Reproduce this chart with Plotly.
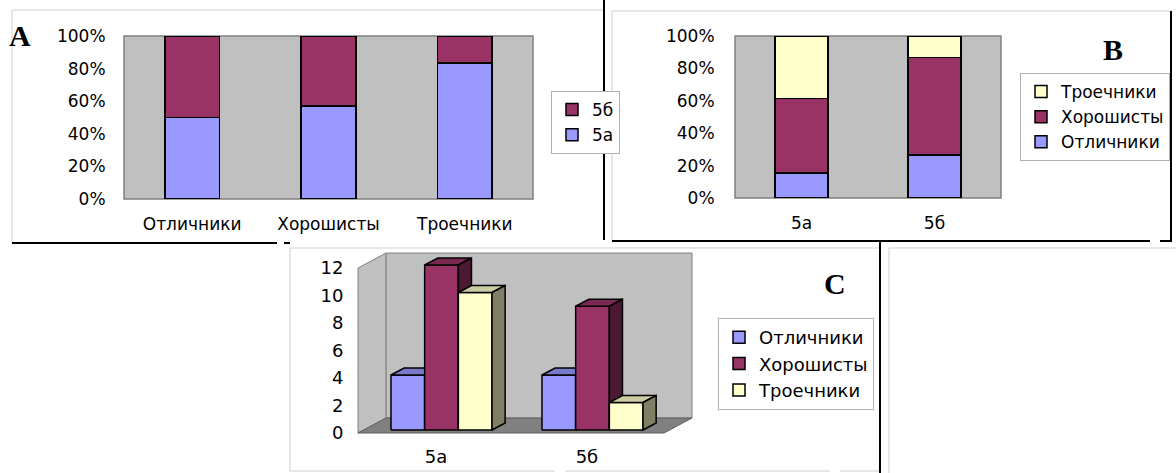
import plotly.graph_objects as go

# ---------------- data ----------------
groups = ['Отличники', 'Хорошисты', 'Троечники']
classes = ['5а', '5б']
counts_5a = [4, 12, 10]      # pupils of class 5а in each group
counts_5b = [4, 9, 2]        # pupils of class 5б in each group
pct_ticks = [0, 20, 40, 60, 80, 100]
count_ticks = [0, 2, 4, 6, 8, 10, 12]

group_colors = ['#9999ff', '#993366', '#ffffcc']
class_colors = ['#9999ff', '#993366']

W, H = 1176, 473
FONT = 'DejaVu Sans'


def px(x):
    return x / W


def py(y):
    return 1 - y / H


def shade(hexcol, f):
    h = hexcol.lstrip('#')
    r, g, b = (int(h[i:i + 2], 16) for i in (0, 2, 4))
    return 'rgb(%d,%d,%d)' % (r * f, g * f, b * f)


fig = go.Figure()

# ---------------- panel A: share of each class inside each group ----------------
totals = [a + b for a, b in zip(counts_5a, counts_5b)]
share_a = [a / t * 100 for a, t in zip(counts_5a, totals)]
share_b = [b / t * 100 for b, t in zip(counts_5b, totals)]
for name, vals, col in [(classes[0], share_a, class_colors[0]),
                        (classes[1], share_b, class_colors[1])]:
    fig.add_trace(go.Bar(x=groups, y=vals, name=name, xaxis='x', yaxis='y',
                         legend='legend',
                         marker=dict(color=col, line=dict(color='black', width=1.5)),
                         hoverinfo='skip'))

# ---------------- panel B: share of each group inside each class ----------------
sum_a, sum_b = sum(counts_5a), sum(counts_5b)
for i, g in enumerate(groups):
    fig.add_trace(go.Bar(x=classes, y=[counts_5a[i] / sum_a * 100, counts_5b[i] / sum_b * 100],
                         name=g, xaxis='x2', yaxis='y2', legend='legend2',
                         marker=dict(color=group_colors[i], line=dict(color='black', width=1.5)),
                         hoverinfo='skip'))

# ---------------- panel C: pseudo-3D clustered columns ----------------
BW = 0.223               # bar width in category units
OX, OY = 0.037, 0.22     # bars sit slightly behind the front of the box
WDX, WDY = 0.185, 1.09   # depth of the walls
BDX, BDY = 0.087, 0.51   # depth of the bars
XL, XR = -0.553, 1.474   # front edge of the floor
VMAX = count_ticks[-1]


def poly(trace_pts, fill, line, width=1):
    xs, ys = [], []
    for pts in trace_pts:
        xs += [p[0] for p in pts] + [pts[0][0], None]
        ys += [p[1] for p in pts] + [pts[0][1], None]
    fig.add_trace(go.Scatter(x=xs, y=ys, mode='lines', fill='toself', fillcolor=fill,
                             line=dict(color=line, width=width), xaxis='x3', yaxis='y3',
                             showlegend=False, hoverinfo='skip'))


b0, t0 = -OY, VMAX - OY
back = [(XL + WDX, b0 + WDY), (XR + WDX, b0 + WDY), (XR + WDX, t0 + WDY), (XL + WDX, t0 + WDY)]
side = [(XL, b0), (XL + WDX, b0 + WDY), (XL + WDX, t0 + WDY), (XL, t0)]
floor = [(XL, b0), (XR, b0), (XR + WDX, b0 + WDY), (XL + WDX, b0 + WDY)]
poly([back], '#c0c0c0', '#808080')
poly([side], '#c0c0c0', '#808080')
poly([floor], '#808080', '#606060')

series = [[counts_5a[k], counts_5b[k]] for k in range(3)]
for k, g in enumerate(groups):
    fronts, tops, sides = [], [], []
    for j, val in enumerate(series[k]):
        xc = j + (k - 1) * BW
        x0, x1 = xc - BW / 2, xc + BW / 2
        fronts.append([(x0, 0), (x1, 0), (x1, val), (x0, val)])
        tops.append([(x0, val), (x1, val), (x1 + BDX, val + BDY), (x0 + BDX, val + BDY)])
        sides.append([(x1, 0), (x1 + BDX, BDY), (x1 + BDX, val + BDY), (x1, val)])
    poly(fronts, group_colors[k], 'black', 1.5)
    poly(tops, shade(group_colors[k], 0.8), 'black', 1.5)
    poly(sides, shade(group_colors[k], 0.5), 'black', 1.5)

for k, g in enumerate(groups):
    fig.add_trace(go.Bar(x=[None], y=[None], name=g, xaxis='x3', yaxis='y3', legend='legend3',
                         marker=dict(color=group_colors[k], line=dict(color='black', width=1.5)),
                         hoverinfo='skip'))

# ---------------- layout ----------------
tickfont = dict(family=FONT, size=17, color='black')
hidden_tick = dict(ticks='outside', tickcolor='rgba(0,0,0,0)', showgrid=False, zeroline=False,
                   showline=False, fixedrange=True, automargin=False)

C_L, C_R, C_T, C_B = 350, 700, 250, 440
U0, UPX = 441.5, 151.0
V0, VPX = 430.0, 13.75

pct_text = ['%d%%' % t for t in pct_ticks]

layout = dict(
    width=W, height=H, margin=dict(l=0, r=0, t=0, b=0, pad=0, autoexpand=False),
    paper_bgcolor='white', plot_bgcolor='rgba(0,0,0,0)',
    barmode='stack', bargap=0.6, showlegend=True,
    xaxis=dict(domain=[px(124), px(533)], anchor='y', range=[-0.5, 2.5], tickfont=tickfont,
               ticklen=10, **hidden_tick),
    yaxis=dict(domain=[py(199), py(36)], anchor='x', range=[0, 100], tickvals=pct_ticks,
               ticktext=pct_text, tickfont=tickfont, ticklen=14, **hidden_tick),
    xaxis2=dict(domain=[px(735), px(1001)], anchor='y2', range=[-0.5, 1.5], tickfont=tickfont,
                ticklen=10, **hidden_tick),
    yaxis2=dict(domain=[py(198), py(36)], anchor='x2', range=[0, 100], tickvals=pct_ticks,
                ticktext=pct_text, tickfont=tickfont, ticklen=16, **hidden_tick),
    xaxis3=dict(domain=[px(C_L), px(C_R)], anchor='y3', type='linear',
                range=[(C_L - U0) / UPX, (C_R - U0) / UPX],
                tickvals=[j - OX for j in range(len(classes))], ticktext=classes,
                tickfont=dict(family=FONT, size=18, color='black'), ticklen=0, **hidden_tick),
    yaxis3=dict(domain=[py(C_B), py(C_T)], anchor='x3', type='linear',
                range=[(V0 - C_B) / VPX, (V0 - C_T) / VPX],
                tickvals=[t - OY for t in count_ticks], ticktext=[str(t) for t in count_ticks],
                tickfont=dict(family=FONT, size=18, color='black'), ticklen=2, **hidden_tick),
    legend=dict(x=px(551), y=py(91), xanchor='left', yanchor='top', traceorder='reversed',
                bordercolor='#b0b0b0', borderwidth=1, bgcolor='white', itemwidth=30,
                font=dict(family=FONT, size=17, color='black')),
    legend2=dict(x=px(1020), y=py(73), xanchor='left', yanchor='top', traceorder='reversed',
                 bordercolor='#b0b0b0', borderwidth=1, bgcolor='white', itemwidth=30,
                 font=dict(family=FONT, size=17, color='black')),
    legend3=dict(x=px(718), y=py(318), xanchor='left', yanchor='top', traceorder='normal',
                 bordercolor='#b0b0b0', borderwidth=1, bgcolor='white', itemwidth=30,
                 font=dict(family=FONT, size=18, color='black')),
)
fig.update_layout(**layout)

# gray plot areas for A and B
shapes = []
for xr, yr in [('x domain', 'y domain'), ('x2 domain', 'y2 domain')]:
    shapes.append(dict(type='rect', xref=xr, yref=yr, x0=0, x1=1, y0=0, y1=1, layer='below',
                       fillcolor='#c0c0c0', line=dict(color='#808080', width=1.5)))


def seg(x0, y0, x1, y1, color, width):
    shapes.append(dict(type='line', xref='paper', yref='paper', x0=px(x0), y0=py(y0),
                       x1=px(x1), y1=py(y1), line=dict(color=color, width=width)))


LG, DK = '#cfcfcf', 'black'
# frame A
seg(12, 10, 603, 10, LG, 1)
seg(12, 10, 12, 243, LG, 1)
seg(12, 243, 277, 243, DK, 2)
seg(284, 243, 290, 243, DK, 2)
seg(604, 0, 604, 240, DK, 2)
# frame B
seg(612, 11, 1171, 11, LG, 1)
seg(612, 11, 612, 240, LG, 1)
seg(612, 241, 1150, 241, DK, 2)
seg(1160, 241, 1172, 241, DK, 2)
seg(1171, 11, 1171, 241, DK, 2)
# frame C
seg(290, 248, 880, 248, LG, 1)
seg(290, 248, 290, 471, LG, 1)
seg(290, 471, 555, 471, LG, 1)
seg(565, 471, 830, 471, LG, 1)
seg(840, 471, 880, 471, LG, 1)
seg(880, 240, 880, 473, DK, 2)
# empty frame on the right
seg(889, 248, 1176, 248, LG, 1)
seg(889, 248, 889, 473, LG, 1)
fig.update_layout(shapes=shapes)

for letter, x, y in [('A', 20, 36), ('B', 1113, 50), ('C', 835, 283)]:
    fig.add_annotation(text='<b>%s</b>' % letter, x=px(x), y=py(y), xref='paper', yref='paper',
                       showarrow=False, xanchor='center', yanchor='middle',
                       font=dict(family='Liberation Serif', size=30, color='black'))

fig.write_html('out.html')
